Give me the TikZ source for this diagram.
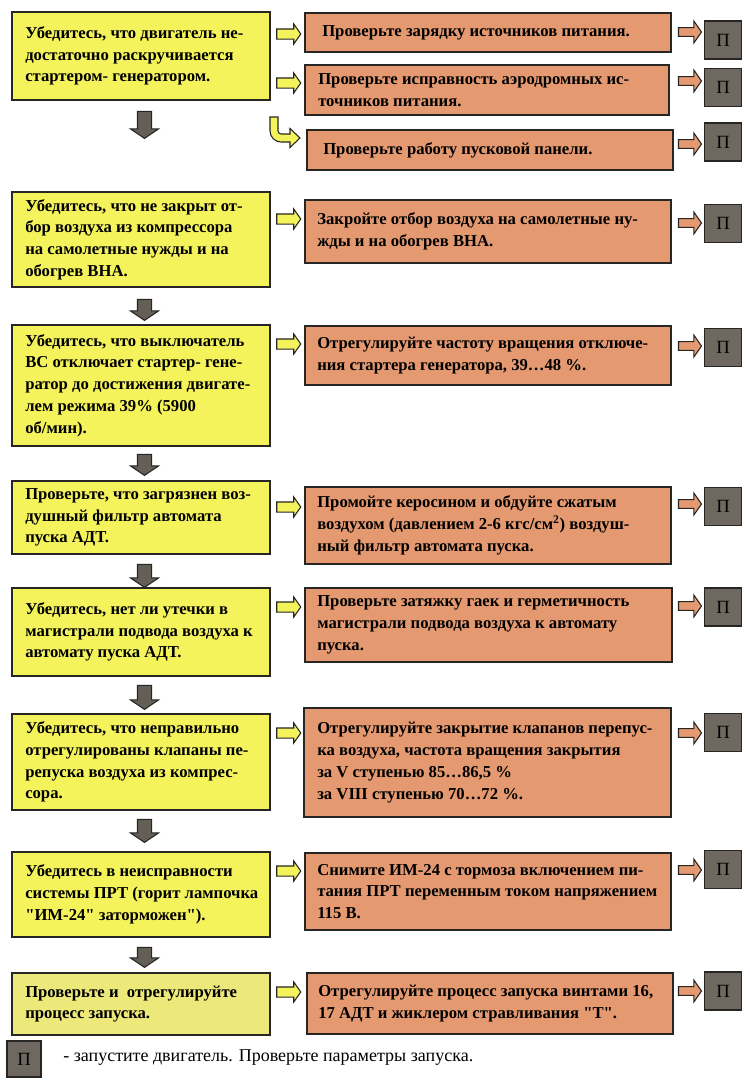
\documentclass[tikz,border=0pt]{standalone}
\usepackage{fontspec}
\setmainfont{Liberation Serif}[Ligatures=TeXOff]
\usetikzlibrary{shapes.arrows}
\definecolor{ylw}{RGB}{245,243,92}
\definecolor{ylwpale}{RGB}{236,232,122}
\definecolor{org}{RGB}{228,153,113}
\definecolor{pgrey}{RGB}{110,104,96}
\definecolor{dgrey}{RGB}{100,95,86}
\definecolor{edge}{RGB}{40,38,36}
\newcommand\mkbox[8]{%
  \node[box, fill=#1, minimum width={(#5-#3)*0.75pt}, minimum height={(#6-#4)*0.75pt}] (#2) at (#3,#4) {};
  \node[txt] (#2t) at ([xshift=#7*0.75pt]#2.west) {#8};}
\begin{document}
\begin{tikzpicture}[x=0.75pt,y=-0.75pt,
  box/.style={draw=edge, line width=0.9pt, anchor=north west, inner sep=0pt, outer sep=0pt},
  txt/.style={anchor=west, align=left, inner sep=0pt, font=\bfseries\fontsize{12.5}{16.3}\selectfont},
  yarr/.style={single arrow, draw=edge, fill=ylw, line width=0.8pt, minimum height=24*0.75pt,
    minimum width=0pt, inner xsep=0pt, inner ysep=4.5*0.75pt, single arrow head extend=5*0.75pt,
    single arrow tip angle=110, outer sep=0pt},
  oarr/.style={single arrow, draw=edge, fill=org, line width=0.8pt, minimum height=23*0.75pt,
    minimum width=0pt, inner xsep=0pt, inner ysep=3.8*0.75pt, single arrow head extend=6.5*0.75pt,
    single arrow tip angle=110, outer sep=0pt},
  darr/.style={single arrow, shape border rotate=270, draw=edge, fill=dgrey, line width=0.8pt,
    minimum width=0pt, inner ysep=0pt, inner xsep=6.5*0.75pt, single arrow head extend=7*0.75pt,
    single arrow tip angle=112, outer sep=0pt},
  pbox/.style={draw=edge, fill=pgrey, line width=0.8pt, minimum width=37*0.75pt,
    minimum height=38*0.75pt, inner sep=0pt, font=\fontsize{14}{14}\selectfont}
]
\useasboundingbox[fill=white] (0,0) rectangle (750,1086);

% left column
\mkbox{ylw}{y1}{12}{12}{270}{100}{13}{Убедитесь, что двигатель не-\\достаточно раскручивается\\стартером- генератором.}
\mkbox{ylw}{y2}{12}{192}{270}{287}{13}{Убедитесь, что не закрыт от-\\бор воздуха из компрессора\\на самолетные нужды и на\\обогрев ВНА.}
\mkbox{ylw}{y3}{12}{325}{270}{446}{13}{Убедитесь, что выключатель\\ВС отключает стартер- гене-\\ратор до достижения двигате-\\лем режима 39\% (5900\\об/мин).}
\mkbox{ylw}{y4}{12}{481}{270}{554}{13}{Проверьте, что загрязнен воз-\\душный фильтр автомата\\пуска АДТ.}
\mkbox{ylw}{y5}{12}{588}{270}{676}{13}{Убедитесь, нет ли утечки в\\магистрали подвода воздуха к\\автомату пуска АДТ.}
\mkbox{ylw}{y6}{12}{714}{270}{810}{13}{Убедитесь, что неправильно\\отрегулированы клапаны пе-\\репуска воздуха из компрес-\\сора.}
\mkbox{ylw}{y7}{12}{852}{270}{937}{13}{Убедитесь в неисправности\\системы ПРТ (горит лампочка\\"ИМ-24" заторможен").}
\mkbox{ylwpale}{y8}{12}{973}{270}{1035}{13}{Проверьте и\ \ отрегулируйте\\процесс запуска.}

% right column
\mkbox{org}{r1a}{305}{13}{671}{52}{17}{Проверьте зарядку источников питания.}
\mkbox{org}{r1b}{305}{65}{669}{115}{13}{Проверьте исправность аэродромных ис-\\точников питания.}
\mkbox{org}{r1c}{307}{130}{673}{170}{16}{Проверьте работу пусковой панели.}
\mkbox{org}{r2}{305}{200}{671}{263}{12}{Закройте отбор воздуха на самолетные ну-\\жды и на обогрев ВНА.}
\mkbox{org}{r3}{305}{326}{671}{385}{12}{Отрегулируйте частоту вращения отключе-\\ния стартера генератора, 39…48 \%.}
\mkbox{org}{r4}{305}{487}{671}{564}{12}{Промойте керосином и обдуйте сжатым\\воздухом (давлением 2-6 кгс/см\textsuperscript{2}) воздуш-\\ный фильтр автомата пуска.}
\mkbox{org}{r5}{305}{588}{672}{662}{12}{Проверьте затяжку гаек и герметичность\\магистрали подвода воздуха к автомату\\пуска.}
\mkbox{org}{r6}{304}{708}{671}{817}{13}{Отрегулируйте закрытие клапанов перепус-\\ка воздуха, частота вращения закрытия\\за V ступенью 85…86,5 \%\\за VIII ступенью 70…72 \%.}
\mkbox{org}{r7}{305}{853}{671}{930}{12}{Снимите ИМ-24 с тормоза включением пи-\\тания ПРТ переменным током напряжением\\115 В.}
\mkbox{org}{r8}{307}{973}{673}{1034}{11}{Отрегулируйте процесс запуска винтами 16,\\17 АДТ и жиклером стравливания "Т".}

% П boxes
\node[pbox] (p1a) at (723,40) {П};
\node[pbox] (p1b) at (723,87.5) {П};
\node[pbox] (p1c) at (723,142) {П};
\node[pbox] (p2) at (723,223.5) {П};
\node[pbox] (p3) at (723,347.5) {П};
\node[pbox] (p4) at (723,506.5) {П};
\node[pbox] (p5) at (723,607) {П};
\node[pbox] (p6) at (723,732.5) {П};
\node[pbox] (p7) at (723,869.5) {П};
\node[pbox] (p8) at (723,991) {П};

% yellow arrows (left column -> right column)
\node[yarr] (a1a) at (287,34) {};
\node[yarr] (a1b) at (287,83) {};
\node[yarr] (a2) at (287,219) {};
\node[yarr] (a3) at (287,344) {};
\node[yarr] (a4) at (287,507) {};
\node[yarr] (a5) at (287,607) {};
\node[yarr] (a6) at (287,733) {};
\node[yarr] (a7) at (287,871) {};
\node[yarr] (a8) at (287,992) {};

% curved arrow to r1c
\draw[draw=edge, fill=ylw, line width=0.8pt]
  (270,117) -- (270,131) .. controls (270,137) and (275,142) .. (281,142)
  -- (290,142) -- (290,147.5) -- (300,138) -- (290,128.5) -- (290,134) -- (281,134)
  .. controls (279.5,134) and (278,132.5) .. (278,131) -- (278,117) -- cycle;

% orange arrows (right column -> П)
\node[oarr] (b1a) at (688.5,32) {};
\node[oarr] (b1b) at (688.5,81) {};
\node[oarr] (b1c) at (688.5,144) {};
\node[oarr] (b2) at (688.5,223) {};
\node[oarr] (b3) at (688.5,346) {};
\node[oarr] (b4) at (688.5,504) {};
\node[oarr] (b5) at (688.5,606) {};
\node[oarr] (b6) at (688.5,733) {};
\node[oarr] (b7) at (688.5,870) {};
\node[oarr] (b8) at (688.5,991) {};

% down arrows
\node[darr, minimum height=27*0.75pt] (d1) at (144.5,122.5) {};
\node[darr, minimum height=21*0.75pt] (d2) at (144.5,307.5) {};
\node[darr, minimum height=21*0.75pt] (d3) at (144.5,462.5) {};
\node[darr, minimum height=23*0.75pt] (d4) at (144.5,573.5) {};
\node[darr, minimum height=24*0.75pt] (d5) at (144.5,695) {};
\node[darr, minimum height=23*0.75pt] (d6) at (144.5,828.5) {};
\node[darr, minimum height=20*0.75pt] (d7) at (144.5,955) {};

% legend
\node[pbox, minimum width=34*0.75pt, minimum height=36*0.75pt] (leg) at (24,1059) {П};
\node[anchor=west, inner sep=0pt, font=\fontsize{13.5}{15}\selectfont] (legt) at (63,1058) {- запустите двигатель. Проверьте параметры запуска.};
\end{tikzpicture}
\end{document}
